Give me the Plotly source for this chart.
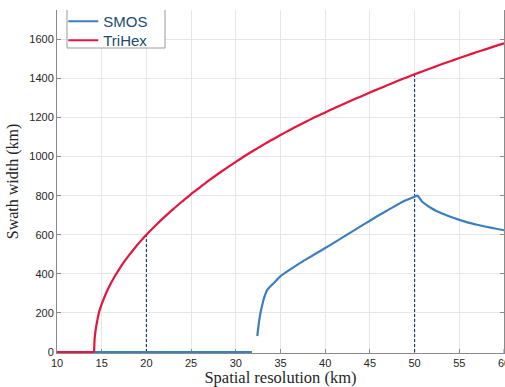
import plotly.graph_objects as go

# TriHex swath width (km) vs spatial resolution (km)
trihex_zero_x = [10, 14.15]
trihex_zero_y = [0, 0]
trihex_x = [14.15, 14.18, 14.2, 14.25, 14.3, 14.4, 14.5, 14.7, 15, 15.5, 16, 16.5, 17, 17.5, 18, 18.5,
            19, 19.5, 20, 21, 22, 23, 24, 25, 26, 27, 28, 29, 30, 31, 32, 33, 34, 35, 36, 37, 38, 39,
            40, 41, 42, 43, 44, 45, 46, 47, 48, 49, 50, 51, 52, 53, 54, 55, 56, 57, 58, 59, 60]
trihex_y = [0, 40, 62, 86, 105, 135, 160, 203, 245, 302, 349, 390, 427, 461, 492, 521,
            549, 575, 600, 646, 690, 731, 770, 808, 843, 878, 911, 942, 973, 1003, 1031, 1058, 1085, 1110, 1135, 1159, 1182, 1205,
            1226, 1247, 1268, 1288, 1308, 1328, 1347, 1366, 1385, 1403, 1421, 1438, 1455, 1472, 1488, 1504, 1520, 1535, 1550, 1565, 1580]

# SMOS: zero segment, then the actual curve
smos_zero_x = [14.15, 31.8]
smos_zero_y = [0, 0]
smos_x = [32.4, 32.5, 32.6, 32.7, 32.83, 33.0, 33.13, 33.3, 33.5, 33.7, 34, 34.5, 35, 36, 37, 38, 39, 40,
          41, 42, 43, 44, 45, 46, 47, 48, 49, 50, 50.3, 50.5, 50.8, 51.2, 51.8, 52.5, 53, 54, 55, 56,
          57, 58, 59, 60]
smos_y = [82, 120, 155, 185, 215, 248, 272, 295, 317, 328, 342, 365, 388, 420, 450, 478, 505, 532,
          560, 588, 616, 644, 672, 700, 726, 752, 776, 795, 801, 790, 772, 757, 738, 720, 710, 692, 676, 662,
          651, 641, 632, 623]

# Reference dashed markers
mark_x = [20, 50]
mark_y = [600, 1421]

series_names = ["SMOS", "TriHex"]

x_ticks = [10, 15, 20, 25, 30, 35, 40, 45, 50, 55, 60]
y_ticks = [0, 200, 400, 600, 800, 1000, 1200, 1400, 1600]

BLUE = "#3d7ebd"
RED = "#e2163e"
NAVY = "#0d3a5c"
AXIS = "#8a8a8a"
TICKFONT = dict(family="Liberation Sans, Arial", size=11, color="#262626")

fig = go.Figure()

for mx, my in zip(mark_x, mark_y):
    fig.add_trace(go.Scatter(x=[mx, mx], y=[0, my], mode="lines",
                             line=dict(color=NAVY, width=1.1, dash="3px,2px"),
                             showlegend=False, hoverinfo="skip"))

fig.add_trace(go.Scatter(x=smos_zero_x, y=smos_zero_y, mode="lines",
                         line=dict(color=BLUE, width=2.2), showlegend=False))
fig.add_trace(go.Scatter(x=trihex_zero_x, y=trihex_zero_y, mode="lines",
                         line=dict(color=RED, width=2.2), showlegend=False))
fig.add_trace(go.Scatter(x=smos_x, y=smos_y, mode="lines", name=series_names[0], showlegend=False,
                         line=dict(color=BLUE, width=2.2, shape="spline", smoothing=0.5)))
fig.add_trace(go.Scatter(x=trihex_x, y=trihex_y, mode="lines", name=series_names[1], showlegend=False,
                         line=dict(color=RED, width=2.2, shape="spline", smoothing=0.8)))

# legend-only entries, each in its own legend for tight spacing
for nm, col, lg in zip(series_names, [BLUE, RED], ["legend", "legend2"]):
    fig.add_trace(go.Scatter(x=[None], y=[None], mode="lines", name=nm, legend=lg,
                             line=dict(color=col, width=2.2)))

axis_common = dict(
    showgrid=True, gridcolor="#e6e6e6", gridwidth=1,
    showline=True, linecolor=AXIS, linewidth=1,
    ticks="inside", ticklen=4, tickcolor=AXIS,
    tickfont=TICKFONT, zeroline=False, layer="below traces",
)

fig.update_xaxes(range=[10, 60], tickvals=x_ticks[:-1], ticktext=[str(v) for v in x_ticks[:-1]],
                 title=dict(text="Spatial resolution (km)", standoff=4,
                            font=dict(family="Liberation Serif, Times New Roman", size=16.5, color="#262626")),
                 **axis_common)
fig.update_yaxes(range=[-5, 1750], tickvals=y_ticks, ticktext=[str(v) for v in y_ticks],
                 mirror="ticks",
                 title=dict(text="Swath width (km)", standoff=6,
                            font=dict(family="Liberation Serif, Times New Roman", size=16, color="#262626")),
                 **axis_common)

# last x tick label sits on the right edge (partly cut off, as in the reference)
fig.add_annotation(x=x_ticks[-1], xref="x", y=0, yref="paper", yanchor="top", yshift=-2,
                   text=str(x_ticks[-1]), showarrow=False, font=TICKFONT, xanchor="center")
fig.add_shape(type="line", xref="x", yref="paper", x0=60, x1=60, y0=0, y1=4/343,
              line=dict(color=AXIS, width=1))

# legend frame (open at the top, as in the reference)
lx0, lx1 = 10 / 447, 108 / 447
ly0 = 1 - 38 / 343
fig.add_shape(type="rect", xref="paper", yref="paper", x0=lx0, x1=lx1, y0=ly0, y1=1,
              fillcolor="white", line=dict(width=0), layer="above")
for (xa, xb, ya, yb) in [(lx0, lx0, ly0, 1), (lx1, lx1, ly0, 1), (lx0, lx1, ly0, ly0)]:
    fig.add_shape(type="line", xref="paper", yref="paper", x0=xa, x1=xb, y0=ya, y1=yb,
                  line=dict(color="#9a9a9a", width=1), layer="above")

legend_style = dict(x=0.014, xanchor="left", yanchor="top",
                    bgcolor="rgba(0,0,0,0)", borderwidth=0,
                    font=dict(family="Liberation Sans, Arial", size=15, color="#1b4a6e"),
                    itemwidth=30)

fig.update_layout(
    width=505, height=387,
    margin=dict(l=57, r=1, t=10, b=34),
    plot_bgcolor="white", paper_bgcolor="white",
    showlegend=True,
    legend=dict(y=1 + 5 / 343, **legend_style),
    legend2=dict(y=1 - 14 / 343, **legend_style),
)

fig.write_html("out.html")
